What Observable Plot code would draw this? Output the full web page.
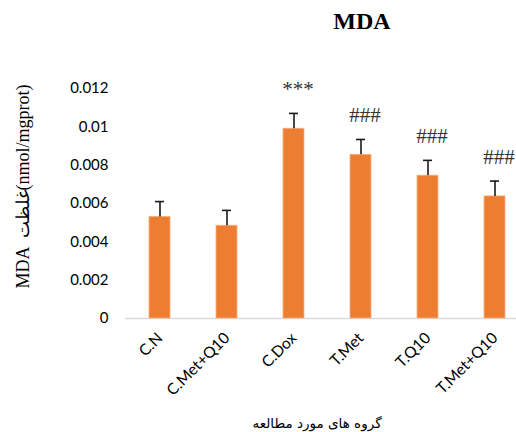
<!DOCTYPE html>
<html>
<head>
<meta charset="utf-8">
<script src="https://cdn.jsdelivr.net/npm/d3@7"></script>
<script src="https://cdn.jsdelivr.net/npm/@observablehq/plot@0.6"></script>
<style>
  html, body { margin: 0; padding: 0; background: #fff; }
  #wrap { position: relative; width: 516px; height: 432px; overflow: hidden; }
  #title { position: absolute; left: 0; width: 516px; top: 8px; text-align: center; padding-left: 208px; box-sizing: border-box;
           font-family: "Liberation Serif", serif; font-weight: bold; font-size: 24px; color: #000; }
  #xlabel { position: absolute; left: 240px; width: 154px; top: 415px; text-align: center; direction: rtl;
            font-family: "DejaVu Sans", sans-serif; font-size: 13.5px; color: #000; }
  svg { position: absolute; left: 0; top: 0; }
</style>
</head>
<body>
<div id="wrap">
  <div id="chart"></div>
  <div id="title">MDA</div>
  <div id="xlabel">گروه های مورد مطالعه</div>
</div>
<script>
const groups = ["C.N", "C.Met+Q10", "C.Dox", "T.Met", "T.Q10", "T.Met+Q10"];
const values = [0.0053, 0.00484, 0.0099, 0.00854, 0.00745, 0.00637];
const errors = [0.0008, 0.0008, 0.0008, 0.0008, 0.0008, 0.0008];
const marks = ["", "", "***", "###", "###", "###"];
const yTicks = [0, 0.002, 0.004, 0.006, 0.008, 0.01, 0.012];
const yTickLabels = ["0", "0.002", "0.004", "0.006", "0.008", "0.01", "0.012"];
const yLabel = "MDA  غلظت(nmol/mgprot)";

const data = groups.map((g, i) => ({group: g, value: values[i], err: errors[i], mark: marks[i], top: values[i] + errors[i]}));

const chart = Plot.plot({
  width: 516,
  height: 432,
  marginLeft: 125,
  marginRight: 0,
  marginTop: 88,
  marginBottom: 114,
  style: {fontFamily: "Lato, 'Open Sans', sans-serif", fontSize: "14.5px", color: "#404040", background: "transparent"},
  x: {domain: groups, range: [125, 528], paddingInner: 0.6875, paddingOuter: 0.34375, align: 0.5, label: null},
  y: {domain: [0, 0.012], label: null},
  marks: [
    Plot.ruleY([0], {stroke: "#d9d9d9", strokeWidth: 1.5}),
    Plot.barY(data, {x: "group", y: "value", fill: "#ed7d31", stroke: "#f4b183", strokeWidth: 0.8}),
    Plot.ruleX(data, {x: "group", y1: "value", y2: "top", stroke: "#1a1a1a", strokeWidth: 1.6}),
    Plot.tickY(data, {x: "group", y: "top", stroke: "#1a1a1a", strokeWidth: 1.6, insetLeft: 6, insetRight: 6}),
    Plot.text(data.filter(d => d.mark), {x: "group", y: "top", text: "mark", dy: -24, dx: 4,
      fontFamily: "'Liberation Serif', serif", fontSize: 21, fill: "#333"}),
    Plot.axisY({ticks: yTicks, tickFormat: (d) => yTickLabels[yTicks.indexOf(d)], tickSize: 0, tickPadding: 17,
      fontSize: 15, fill: "#000", label: null}),
    Plot.axisX({tickSize: 0, tickRotate: -45, tickPadding: 17, fontSize: 15.5, fill: "#000", label: null}),
    Plot.text([yLabel], {frameAnchor: "left", rotate: -90, textAnchor: "middle", dx: -102, dy: -17,
      fontFamily: "'Liberation Serif', serif", fontSize: 18, fill: "#000"})
  ]
});
document.getElementById("chart").appendChild(chart);
</script>
</body>
</html>
